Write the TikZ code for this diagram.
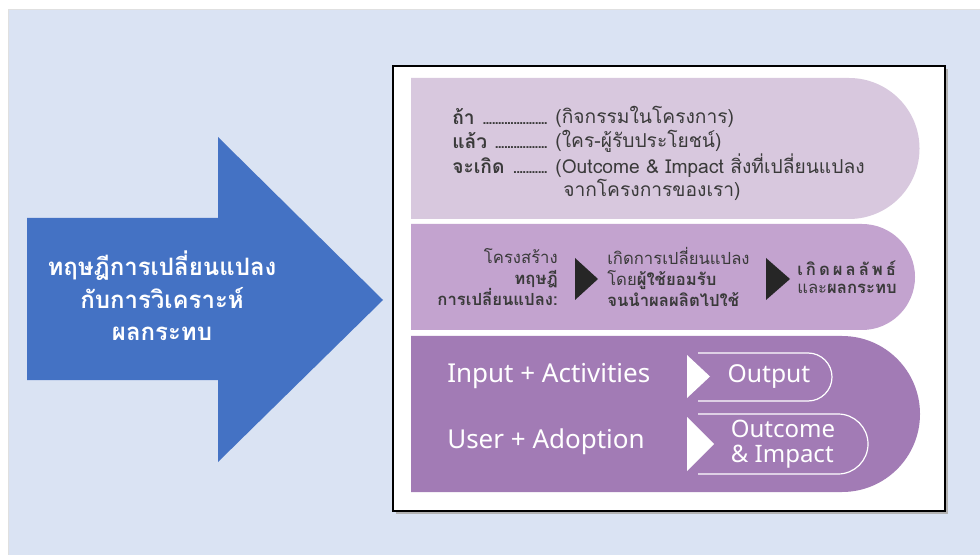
\documentclass[tikz,border=0pt]{standalone}
\usepackage{fontspec}
\setmainfont{Noto Sans}
\newfontfamily\thai[Script=Thai]{Loma}
\usetikzlibrary{positioning}

\definecolor{bgblue}{HTML}{DAE3F3}
\definecolor{arrowblue}{HTML}{4472C4}
\definecolor{lilacone}{HTML}{D8C8DE}
\definecolor{lilactwo}{HTML}{C3A3CF}
\definecolor{lilacthree}{HTML}{A27BB5}
\definecolor{textgray}{HTML}{3A3A3A}

% word + leader dots up to the bracket
\newcommand{\leadword}[1]{\makebox[77pt][l]{\textbf{#1}\ \leaders\hbox to 2.3pt{\hss.\hss}\hfill\ }}

\begin{document}
\begin{tikzpicture}
        [
            x=0.75pt, y=-0.75pt,
            bandone/.style={fill=lilacone},
            bandtwo/.style={fill=lilactwo},
            bandthree/.style={fill=lilacthree},
            arrowtext/.style={font=\thai\bfseries\fontsize{18}{24.5}\selectfont, text=white, align=center, inner sep=0pt},
            thaitext/.style={font=\thai\fontsize{14.4}{18}\selectfont, text=textgray, inner sep=0pt, anchor=west},
            smallthai/.style={font=\thai\fontsize{12.5}{15.75}\selectfont, text=textgray, inner sep=0pt},
            whitetext/.style={font=\fontsize{19.5}{22}\selectfont, text=white, inner sep=0pt},
            marker/.style={fill=black!85},
            outline/.style={draw=white, line width=0.9pt},
        ]
        \useasboundingbox (0,0) rectangle (980,555);

        %Background
        \fill[white] (0,0) rectangle (980,555);
        \fill[bgblue] (8,9) rectangle (980,555);
        \draw[black!12] (8,555) -- (8,9) -- (980,9);

        %Arrow
        \fill[arrowblue] (27,218) -- (218,218) -- (218,137) -- (383,300) -- (218,462) -- (218,380) -- (27,380) -- cycle;
        \node[arrowtext] (title) at (162,296) {ทฤษฎีการเปลี่ยนแปลง\\กับการวิเคราะห์\\ผลกระทบ};

        %Panel
        \fill[black!30] (396,69) rectangle (948,514);
        \draw[fill=white, line width=2.2pt] (393,66) rectangle (945,511);

        %Bands
        \fill[bandone] (411,78) -- (849,78) arc[start angle=-90, end angle=90, radius=70.5] -- (411,219) -- cycle;
        \fill[bandtwo] (411,224) -- (862,224) arc[start angle=-90, end angle=90, radius=53] -- (411,330) -- cycle;
        \fill[bandthree] (411,336) -- (842,336) arc[start angle=-90, end angle=90, radius=78] -- (411,492) -- cycle;

        %Band one
        \node[thaitext] (if)      at (452,117) {\leadword{ถ้า}};
        \node[thaitext] (then)    at (452,141) {\leadword{แล้ว}};
        \node[thaitext] (result)  at (452,166) {\leadword{จะเกิด}};
        \node[thaitext] (ifnote)     [right=0pt of if]     {(กิจกรรมในโครงการ)};
        \node[thaitext] (thennote)   [right=0pt of then]   {(ใคร-ผู้รับประโยชน์)};
        \node[thaitext] (resultnote) [right=0pt of result] {(Outcome \& Impact สิ่งที่เปลี่ยนแปลง};
        \node[thaitext] (resultmore) at (563,190) {จากโครงการของเรา)};

        %Band two
        \node[smallthai, anchor=east, align=right] (frame) at (558,277) {โครงสร้าง\\\textbf{ทฤษฎี}\\\textbf{การเปลี่ยนแปลง:}};
        \fill[marker] (575,258) -- (598,279) -- (575,300) -- cycle;
        \node[smallthai, anchor=west, align=left] (change) at (607,277) {เกิดการเปลี่ยนแปลง\\โดย\textbf{ผู้ใช้ยอมรับ}\\\textbf{จนนำผลผลิตไปใช้}};
        \fill[marker] (766,258) -- (790,279) -- (766,300) -- cycle;
        \node[smallthai, anchor=west, align=left, font=\thai\fontsize{12.5}{13.5}\selectfont] (effect) at (797,277) {{\addfontfeature{LetterSpace=18}\textbf{เกิดผลลัพธ์}}\\และ\textbf{ผลกระทบ}};

        %Band three
        \node[whitetext, anchor=west] (input) at (447,376) {Input + Activities};
        \node[whitetext, anchor=west] (user)  at (447,442) {User + Adoption};
        \fill[white] (687,355) -- (710,376.5) -- (687,398) -- cycle;
        \fill[white] (687,417) -- (714,444) -- (687,471) -- cycle;
        \draw[outline] (698,353) -- (808,353) arc[start angle=-90, end angle=90, radius=24] -- (698,401);
        \draw[outline] (698,414) -- (838,414) arc[start angle=-90, end angle=90, radius=30] -- (698,474);
        \node[whitetext, font=\fontsize{18.5}{22}\selectfont] (output) at (769,377) {Output};
        \node[whitetext, align=left, font=\fontsize{18}{19}\selectfont] (outcome) at (783,444) {Outcome\\\& Impact};
    \end{tikzpicture}
\end{document}
